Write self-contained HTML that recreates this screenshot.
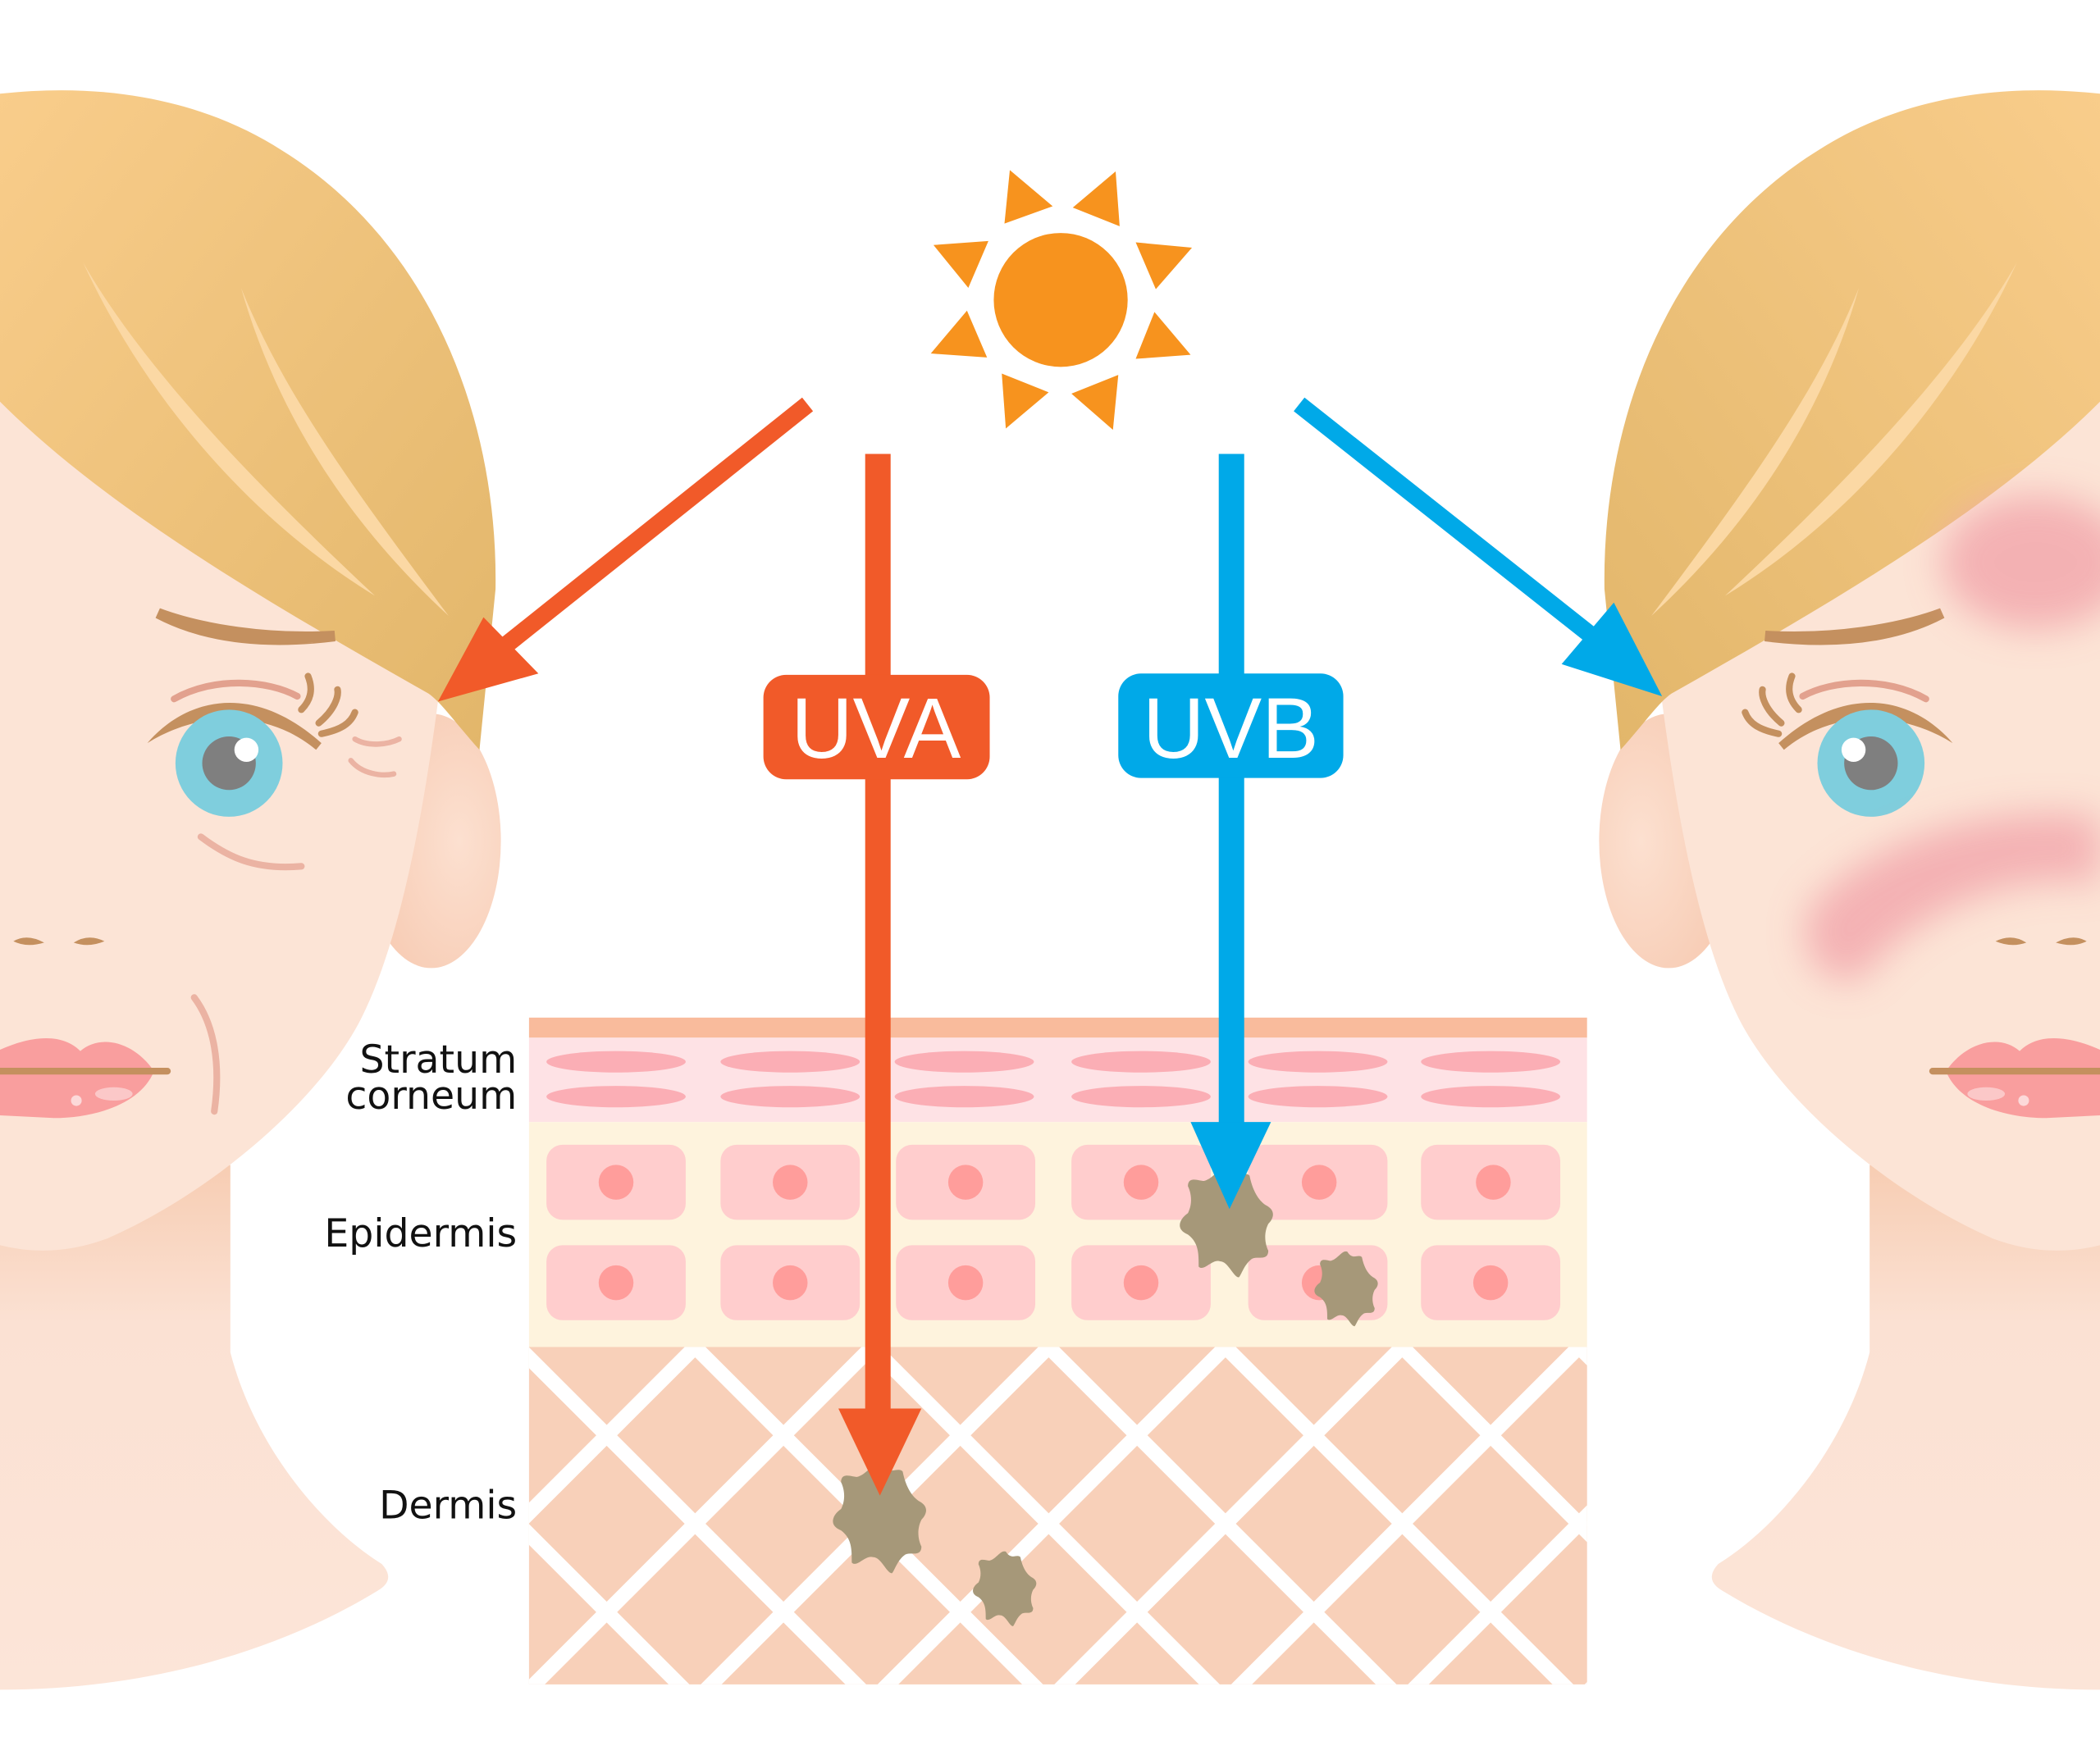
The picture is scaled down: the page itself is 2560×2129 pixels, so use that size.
<!DOCTYPE html>
<html><head><meta charset="utf-8"><style>html,body{margin:0;padding:0;background:#fff;width:2560px;height:2129px;overflow:hidden}svg{display:block}</style></head>
<body>
<svg width="2560" height="2129" viewBox="0 0 1568 1304" xmlns="http://www.w3.org/2000/svg">
<defs>
<linearGradient id="hair" x1="0" y1="0" x2="1" y2="1"><stop offset="0" stop-color="#F9CD8B"/><stop offset="1" stop-color="#E2B66A"/></linearGradient>
<linearGradient id="neck" x1="0" y1="0" x2="0" y2="1"><stop offset="0" stop-color="#F7CDB3"/><stop offset="0.3" stop-color="#FBE1D3"/><stop offset="1" stop-color="#FCE5D8"/></linearGradient>
<radialGradient id="ear" cx="0.7" cy="0.5" r="0.7"><stop offset="0" stop-color="#FCE0D0"/><stop offset="1" stop-color="#F7CBB3"/></radialGradient>
<filter id="blur" x="-50%" y="-50%" width="200%" height="200%"><feGaussianBlur stdDeviation="14"/></filter>
<clipPath id="derm"><rect x="395" y="1006" width="790" height="252"/></clipPath>
<clipPath id="page"><rect x="0" y="0" width="1568" height="1304"/></clipPath>
<g id="face">
<path d="M0,920 L172,870 L172,1010 C190,1080 240,1140 285,1168 Q296,1180 282,1188 C200,1238 100,1262 0,1262 Z" fill="url(#neck)"/>
<ellipse cx="322" cy="628" rx="52" ry="95" fill="url(#ear)"/>
<path d="M0,280 L330,500 C318,600 300,700 270,760 C240,820 160,890 80,925 Q40,940 0,930 Z" fill="#FCE4D6"/>
<path d="M0,70 C90,60 160,80 210,112 C320,180 372,310 370,440 L358,560 C340,540 330,525 320,518 C200,450 80,380 0,300 Z" fill="url(#hair)"/>
<path d="M62,196 C110,300 190,390 280,445 C200,370 110,280 62,196 Z" fill="#FBD8A4"/>
<path d="M180,215 C210,320 270,400 335,460 C260,360 210,290 180,215 Z" fill="#FBD8A4"/>
<path d="M118,458 C160,480 210,480 250,475 C200,478 150,470 118,458 Z" fill="none" stroke="#C4905F" stroke-width="8" stroke-linecap="round"/>
<path d="M130,522 C160,505 200,508 222,520" fill="none" stroke="#E2A18E" stroke-width="5" stroke-linecap="round"/>
<path d="M110,555 C140,520 190,510 240,555 L236,560 C200,530 150,530 110,555 Z" fill="#C4905F"/>
<path d="M225,530 C235,520 232,510 230,505 M238,540 C250,530 253,520 252,515 M240,548 C255,545 262,540 265,532" fill="none" stroke="#C4905F" stroke-width="5" stroke-linecap="round"/>
<circle cx="171" cy="570" r="40" fill="#7FCEDD"/>
<circle cx="171" cy="570" r="20" fill="#7F7F7F"/>
<circle cx="184" cy="560" r="9" fill="#fff"/>
<path d="M10,703 Q20,697 33,704 Q20,708 10,703 Z M55,704 Q66,697 78,703 Q66,708 55,704 Z" fill="#C4905F"/>
<path d="M0,784 C20,775 45,770 60,785 C75,772 100,778 115,800 C105,825 70,835 40,835 L0,833 Z" fill="#F99E9E"/>
<path d="M0,800 L125,800" stroke="#C4905F" stroke-width="5" stroke-linecap="round"/>
<ellipse cx="85" cy="817" rx="14" ry="5" fill="#FBC8C8"/><circle cx="57" cy="822" r="4" fill="#FCD9D9"/>
</g>
<g id="mel"><path d="M0,-40 C6,-30 12,-38 16,-34 C18,-24 22,-16 28,-12 C36,-8 34,-2 30,2 C26,10 28,18 30,22 C30,30 22,26 18,28 C12,32 10,40 8,42 C4,42 0,30 -6,30 C-12,28 -18,38 -22,34 C-22,24 -22,16 -30,10 C-40,6 -36,-2 -30,-6 C-26,-14 -28,-22 -30,-26 C-30,-34 -22,-30 -18,-30 C-10,-32 -6,-42 0,-40 Z" fill="#A69879"/></g>
</defs>
<g clip-path="url(#page)">
<!-- faces -->
<use href="#face"/>
<path d="M150,625 C170,640 190,650 225,647" fill="none" stroke="#EBB3A3" stroke-width="5" stroke-linecap="round"/>
<path d="M265,552 C275,558 290,556 298,552 M262,568 C270,578 285,580 294,578" fill="none" stroke="#EBB3A3" stroke-width="4" stroke-linecap="round"/>
<path d="M145,745 C160,765 165,795 160,830" fill="none" stroke="#EBB3A3" stroke-width="5" stroke-linecap="round"/>
<g transform="translate(1568,0) scale(-1,1)"><use href="#face"/></g>
<g filter="url(#blur)" opacity="0.8">
<ellipse cx="1520" cy="420" rx="70" ry="50" fill="#F2A5AB"/>
<path d="M1350,680 C1400,620 1500,600 1568,610 L1568,660 C1500,650 1430,680 1390,730 C1370,740 1340,720 1350,680 Z" fill="#F2A5AB"/>
</g>

<!-- sun -->
<circle cx="792" cy="224" r="50" fill="#F7931E"/>
<g fill="#F7931E">
<polygon points="754,127 786,154 750,167"/>
<polygon points="833,128 836,169 801,155"/>
<polygon points="890,185 863,216 848,181"/>
<polygon points="889,265 848,268 862,233"/>
<polygon points="831,321 800,294 835,280"/>
<polygon points="751,320 748,279 783,293"/>
<polygon points="695,264 722,232 737,267"/>
<polygon points="697,183 738,180 723,215"/>
</g>

<!-- skin layers -->
<rect x="395" y="760" width="790" height="15" fill="#F9BB9C"/>
<rect x="395" y="775" width="790" height="63" fill="#FEE2E5"/>
<rect x="395" y="838" width="790" height="168" fill="#FEF3DD"/>
<rect x="395" y="1006" width="790" height="252" fill="#F8D0B9"/>
<g fill="#FBAEB5">
<ellipse cx="460" cy="793" rx="52" ry="8"/><ellipse cx="590" cy="793" rx="52" ry="8"/><ellipse cx="720" cy="793" rx="52" ry="8"/><ellipse cx="852" cy="793" rx="52" ry="8"/><ellipse cx="984" cy="793" rx="52" ry="8"/><ellipse cx="1113" cy="793" rx="52" ry="8"/>
<ellipse cx="460" cy="819" rx="52" ry="8"/><ellipse cx="590" cy="819" rx="52" ry="8"/><ellipse cx="720" cy="819" rx="52" ry="8"/><ellipse cx="852" cy="819" rx="52" ry="8"/><ellipse cx="984" cy="819" rx="52" ry="8"/><ellipse cx="1113" cy="819" rx="52" ry="8"/>
</g>
<g fill="#FFCDCD">
<rect x="408" y="855" width="104" height="56" rx="12"/><rect x="538" y="855" width="104" height="56" rx="12"/><rect x="669" y="855" width="104" height="56" rx="12"/><rect x="800" y="855" width="104" height="56" rx="12"/><rect x="932" y="855" width="104" height="56" rx="12"/><rect x="1061" y="855" width="104" height="56" rx="12"/>
<rect x="408" y="930" width="104" height="56" rx="12"/><rect x="538" y="930" width="104" height="56" rx="12"/><rect x="669" y="930" width="104" height="56" rx="12"/><rect x="800" y="930" width="104" height="56" rx="12"/><rect x="932" y="930" width="104" height="56" rx="12"/><rect x="1061" y="930" width="104" height="56" rx="12"/>
</g>
<g fill="#FF9D9B">
<circle cx="460" cy="883" r="13"/><circle cx="590" cy="883" r="13"/><circle cx="721" cy="883" r="13"/><circle cx="852" cy="883" r="13"/><circle cx="985" cy="883" r="13"/><circle cx="1115" cy="883" r="13"/>
<circle cx="460" cy="958" r="13"/><circle cx="590" cy="958" r="13"/><circle cx="721" cy="958" r="13"/><circle cx="852" cy="958" r="13"/><circle cx="985" cy="958" r="13"/><circle cx="1113" cy="958" r="13"/>
</g>
<g clip-path="url(#derm)" stroke="#fff" stroke-width="11">
<path d="M393,1000 L93,1300 M525,1000 L225,1300 M657,1000 L357,1300 M789,1000 L489,1300 M921,1000 L621,1300 M1053,1000 L753,1300 M1185,1000 L885,1300 M1317,1000 L1017,1300 M1449,1000 L1149,1300"/>
<path d="M117,1000 L417,1300 M249,1000 L549,1300 M381,1000 L681,1300 M513,1000 L813,1300 M645,1000 L945,1300 M777,1000 L1077,1300 M909,1000 L1209,1300 M1041,1000 L1341,1300 M1173,1000 L1473,1300"/>
</g>

<!-- melanin -->
<use href="#mel" transform="translate(917,912)"/>
<use href="#mel" transform="translate(1006,962) scale(0.68)"/>
<use href="#mel" transform="translate(658,1133)"/>
<use href="#mel" transform="translate(751,1186) scale(0.68)"/>

<!-- UVA -->
<line x1="603" y1="302" x2="375" y2="484" stroke="#F15A29" stroke-width="13"/>
<polygon points="327,524 361,461 402,503" fill="#F15A29"/>
<rect x="646" y="339" width="19" height="715" fill="#F15A29"/>
<polygon points="626,1052 688,1052 657,1117" fill="#F15A29"/>
<rect x="570" y="504" width="169" height="78" rx="17" fill="#F15A29"/>
<text x="654" y="566" font-family="Liberation Sans, sans-serif" font-size="64" fill="#fff" text-anchor="middle">UVA</text>
<!-- UVB -->
<line x1="970" y1="302" x2="1195" y2="480" stroke="#00A9E8" stroke-width="13"/>
<polygon points="1241,520 1205,450 1166,496" fill="#00A9E8"/>
<rect x="910" y="339" width="19" height="500" fill="#00A9E8"/>
<polygon points="889,838 949,838 918,903" fill="#00A9E8"/>
<rect x="835" y="503" width="168" height="78" rx="17" fill="#00A9E8"/>
<text x="919" y="566" font-family="Liberation Sans, sans-serif" font-size="64" fill="#fff" text-anchor="middle">UVB</text>

<!-- labels -->
<g font-family="DejaVu Sans, Liberation Sans, sans-serif" font-size="29" fill="#111" text-anchor="end">
<text x="386" y="801">Stratum</text>
<text x="386" y="828">corneum</text>
<text x="386" y="931">Epidermis</text>
<text x="386" y="1134">Dermis</text>
</g>
</g>
</svg>
</body></html>
